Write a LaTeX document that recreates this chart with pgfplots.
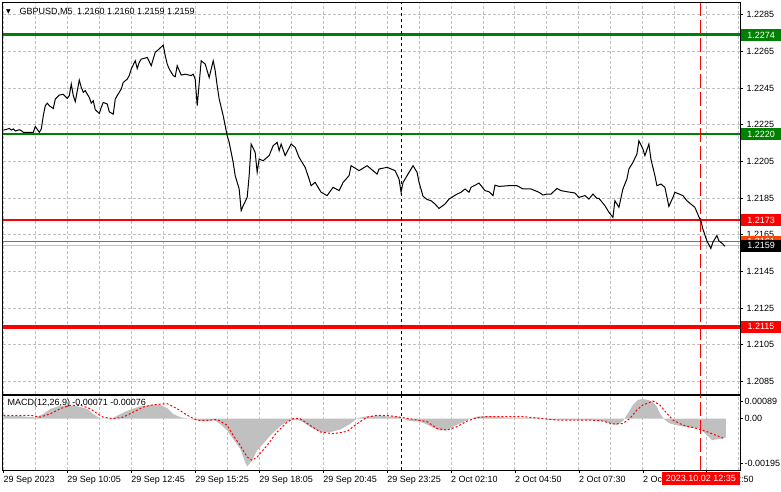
\documentclass[border=0pt]{standalone}
\usepackage{fontspec}
\setmainfont{Liberation Sans}
\newfontfamily\dejavu{DejaVu Sans}
\usepackage{pgfplots}
\pgfplotsset{compat=1.18}
\usepackage{pgfplotstable}
\definecolor{mtgreen}{RGB}{0,128,0}
\definecolor{mtred}{RGB}{255,0,0}
\definecolor{mtorange}{RGB}{255,69,0}
\definecolor{mtgrid}{RGB}{192,192,192}
\definecolor{mthist}{RGB}{192,192,192}

\pgfplotstableread{
bar price
0 1.22221
1 1.22223
3 1.22230
4 1.22221
5 1.22227
6 1.22216
8 1.22223
9 1.22218
10 1.22209
15 1.22209
16 1.22241
18 1.22209
19 1.22227
20 1.22300
21 1.22354
22 1.22368
23 1.22354
25 1.22339
26 1.22390
28 1.22412
30 1.22416
32 1.22394
33 1.22409
34 1.22472
35 1.22409
36 1.22376
38 1.22494
39 1.22454
40 1.22427
41 1.22436
43 1.22399
44 1.22368
45 1.22381
46 1.22332
48 1.22312
49 1.22345
50 1.22372
52 1.22363
53 1.22321
55 1.22308
56 1.22390
57 1.22409
59 1.22445
60 1.22481
62 1.22499
63 1.22518
64 1.22554
66 1.22599
67 1.22557
68 1.22590
69 1.22608
72 1.22617
74 1.22572
76 1.22645
77 1.22654
80 1.22684
81 1.22627
82 1.22581
83 1.22554
84 1.22536
85 1.22518
86 1.22512
87 1.22572
89 1.22521
91 1.22526
94 1.22518
95 1.22526
96 1.22499
97 1.22354
99 1.22599
101 1.22581
103 1.22508
105 1.22599
106 1.22545
107 1.22463
108 1.22390
110 1.22300
111 1.22245
112 1.22191
113 1.22154
115 1.22045
116 1.21973
118 1.21900
119 1.21782
120 1.21809
122 1.21854
123 1.21973
124 1.22145
126 1.22100
127 1.21991
128 1.22063
130 1.22054
133 1.22082
135 1.22136
137 1.22154
138 1.22109
139 1.22145
141 1.22082
144 1.22145
146 1.22127
148 1.22072
151 1.22018
153 1.21954
154 1.21918
156 1.21936
159 1.21882
162 1.21864
165 1.21909
168 1.21891
170 1.21936
173 1.21973
174 1.22027
178 1.22000
182 1.22027
187 1.21981
188 1.22009
192 1.22018
196 1.22000
198 1.21954
199 1.21882
200 1.21936
205 1.22027
207 1.21991
208 1.21936
210 1.21860
212 1.21843
214 1.21836
216 1.21818
218 1.21794
221 1.21818
223 1.21845
227 1.21872
229 1.21882
231 1.21900
233 1.21882
234 1.21909
238 1.21932
241 1.21891
243 1.21885
245 1.21864
246 1.21921
248 1.21914
253 1.21918
257 1.21918
260 1.21900
264 1.21900
268 1.21882
270 1.21867
272 1.21872
274 1.21872
277 1.21903
279 1.21891
282 1.21885
286 1.21878
288 1.21854
291 1.21864
293 1.21845
295 1.21872
297 1.21849
298 1.21849
301 1.21809
303 1.21773
305 1.21745
306 1.21836
307 1.21818
308 1.21800
310 1.21900
312 1.21954
313 1.22009
315 1.22045
317 1.22090
318 1.22163
320 1.22118
321 1.22082
323 1.22145
324 1.22063
326 1.21973
327 1.21918
329 1.21927
331 1.21909
333 1.21805
335 1.21854
336 1.21882
340 1.21864
342 1.21836
344 1.21818
346 1.21800
348 1.21749
349 1.21727
350 1.21682
352 1.21618
354 1.21576
355 1.21609
357 1.21646
358 1.21618
360 1.21600
361 1.21587
}\pricedata

\pgfplotstableread{
bar macd
0 0
0 0.00010
8 0.00010
16 0.00005
20 0.00018
23.5 0.00037
27.5 0.00047
32 0.00052
37 0.00047
42 0.00037
45 0.00018
48.5 0.0
53.5 -0.00003
57 0.00012
62 0.00030
68.5 0.00047
73.5 0.00052
78.5 0.00052
82 0.00040
85 0.00018
88.5 0.00006
95 -0.00003
100 -0.00009
106 -0.00007
108.5 -0.00020
112 -0.00045
115 -0.00077
118.5 -0.00114
121 -0.00165
122 -0.00181
124.5 -0.00158
127 -0.00120
130 -0.00095
133.5 -0.00064
137 -0.00039
140 -0.00020
143.5 -0.00007
147 -0.00003
150 -0.00013
153.5 -0.00032
158.5 -0.00049
163.5 -0.00051
168.5 -0.00041
173.5 -0.00020
177 0.00002
182 0.00009
187 0.00012
193.5 0.00008
198 0.00008
200 0
203.5 -0.00009
208.5 -0.00011
212 -0.00022
215 -0.00034
218.5 -0.00045
222 -0.00043
225 -0.00030
228.5 -0.00018
233.5 0
237 0.00008
242 0.00010
247 0.00008
252 0.00004
268 0.00004
272 -0.00004
280 -0.00005
293.5 -0.00005
300 -0.00009
303.5 -0.00018
307 -0.00024
310 -0.00009
312.5 0.00020
315 0.00052
317.5 0.00071
320 0.00075
322.5 0.00071
325 0.00064
327 0.00045
328.5 0.00020
331 -0.00005
333.5 -0.00018
338.5 -0.00027
343.5 -0.00034
348.5 -0.00037
352 -0.00062
354.5 -0.00081
358.5 -0.00077
361.5 -0.00071
361.5 0
}\histdata

\pgfplotstableread{
bar signal
0 0.00013
13.5 0.00013
18.5 0.00006
23.5 0.00019
28.5 0.00038
33.5 0.00051
38.5 0.00051
43.5 0.00038
47 0.00019
50 0.00006
55 0
60 0.00006
65 0.00025
70 0.00044
75 0.00053
82 0.00057
87 0.00038
92 0.00013
97 -0.00006
102 -0.00006
107 -0.00003
112 -0.00025
115 -0.00063
118.5 -0.00101
122 -0.00145
124.5 -0.00158
127 -0.00145
132 -0.00101
137 -0.00050
142 -0.00013
145 0
148.5 0
153.5 -0.00025
158.5 -0.00050
165 -0.00057
172 -0.00048
177 -0.00019
182 0.00006
187 0.00013
193.5 0.00011
200 0.00004
207 -0.00005
212 -0.00011
217 -0.00037
222 -0.00043
227 -0.00030
232 -0.00009
237 0.00004
242 0.00008
260 0.00008
277 -0.00005
293.5 -0.00005
300 -0.00009
305 -0.00020
310 -0.00018
313.5 0.00001
317 0.00033
320 0.00052
325 0.00067
328.5 0.00052
332 0.00020
335 -0.00005
340 -0.00024
347 -0.00037
352 -0.00049
357 -0.00064
361 -0.00076
}\signaldata

\begin{document}
\begin{tikzpicture}[font=\fontsize{9}{10}\selectfont]
% ---------------- main price panel ----------------
\begin{axis}[
  set layers,
  at={(2.5pt,97pt)}, anchor=south west,
  scale only axis, width=738pt, height=391.5pt,
  xmin=-0.25, xmax=368.75,
  ymin=1.20781, ymax=1.22914,
  clip=false,
  axis line style={black, line width=1pt},
  xtick={0,32,...,352}, minor xtick={16,48,...,368},
  xticklabels={},
  xtick style={draw=none},
  ytick={1.2085,1.2105,1.2125,1.2145,1.2165,1.2185,1.2205,1.2225,1.2245,1.2265,1.2285},
  yticklabels={1.2085,1.2105,1.2125,1.2145,1.2165,1.2185,1.2205,1.2225,1.2245,1.2265,1.2285},
  ytick pos=right, tick align=outside, major tick length=3pt, minor tick length=0pt,
  ytick style={black, line width=0.8pt},
  tick label style={font=\fontsize{9}{10}\selectfont},
  yticklabel style={anchor=west, inner sep=0pt, xshift=3pt},
  grid=both,
  major grid style={mtgrid, dash pattern=on 3pt off 2pt, line width=1pt},
  minor grid style={mtgrid, dash pattern=on 3pt off 2pt, line width=1pt},
]
% level lines
\addplot[mtgreen, line width=3pt] coordinates {(-0.25,1.2274) (368.75,1.2274)};
\addplot[mtgreen, line width=2pt] coordinates {(-0.25,1.2220) (368.75,1.2220)};
\addplot[mtred, line width=2pt] coordinates {(-0.25,1.2173) (368.75,1.2173)};
\addplot[mtred, line width=4pt] coordinates {(-0.25,1.2115) (368.75,1.2115)};
\addplot[mtorange, line width=1pt] coordinates {(-0.25,1.21613) (368.75,1.21613)};
\addplot[mtgrid, line width=1pt] coordinates {(-0.25,1.2159) (368.75,1.2159)};
% separators
\addplot[black, dash pattern=on 3pt off 3pt, line width=1pt] coordinates {(199,1.20781) (199,1.22914)};
\addplot[mtred, dash pattern=on 14pt off 4pt, line width=1pt] coordinates {(349,1.20781) (349,1.22914)};
% price
\addplot[black, line width=1pt] table[x=bar, y=price] {\pricedata};
% right labels
\node[fill=mtgreen, text=white, anchor=west, minimum width=40pt, minimum height=12pt, inner sep=0pt, xshift=0.5pt] at (axis cs:368.75,1.2274) {1.2274};
\node[fill=mtgreen, text=white, anchor=west, minimum width=40pt, minimum height=12pt, inner sep=0pt, xshift=0.5pt] at (axis cs:368.75,1.2220) {1.2220};
\node[fill=mtred, text=white, anchor=west, minimum width=40pt, minimum height=12pt, inner sep=0pt, xshift=0.5pt] at (axis cs:368.75,1.2173) {1.2173};
\node[fill=mtred, text=white, anchor=west, minimum width=40pt, minimum height=12pt, inner sep=0pt, xshift=0.5pt] at (axis cs:368.75,1.2115) {1.2115};
\node[fill=mtorange, text=white, anchor=west, minimum width=40pt, minimum height=12pt, inner sep=0pt, xshift=0.5pt] at (axis cs:368.75,1.21613) {1.2161};
\node[fill=black, text=white, anchor=west, minimum width=40pt, minimum height=12pt, inner sep=0pt, xshift=0.5pt] at (axis cs:368.75,1.2159) {1.2159};
% title
\node[anchor=center, inner sep=0pt, font=\dejavu\fontsize{6}{7}\selectfont] at (axis description cs:0.0075,0.977) {▼};
\node[anchor=west, inner sep=0pt] at (axis description cs:0.0224,0.977) {GBPUSD,M5\enspace 1.2160 1.2160 1.2159 1.2159};
\end{axis}
% ---------------- MACD panel ----------------
\begin{axis}[
  set layers,
  at={(2.5pt,21pt)}, anchor=south west,
  scale only axis, width=738pt, height=75pt,
  xmin=-0.25, xmax=368.75,
  ymin=-0.00195, ymax=0.00089,
  clip=false,
  scaled y ticks=false,
  axis line style={black, line width=1pt},
  xtick={0,32,...,352}, minor xtick={16,48,...,368},
  xticklabels={29 Sep 2023,29 Sep 10:05,29 Sep 12:45,29 Sep 15:25,29 Sep 18:05,29 Sep 20:45,29 Sep 23:25,2 Oct 02:10,2 Oct 04:50,2 Oct 07:30,2 Oct 10:10,2 Oct 12:50},
  ytick={-0.001685,0,0.000663},
  yticklabels={-0.00195,0.00,0.00089},
  xtick pos=bottom, ytick pos=right,
  tick align=outside, major tick length=3pt, minor tick length=0pt,
  tick style={black, line width=0.8pt},
  tick label style={font=\fontsize{9}{10}\selectfont},
  xticklabel style={anchor=north west, inner sep=0pt, yshift=-3pt},
  yticklabel style={anchor=west, inner sep=0pt, xshift=1pt},
  xmajorgrids, xminorgrids,
  major grid style={mtgrid, dash pattern=on 3pt off 2pt, line width=1pt},
  minor grid style={mtgrid, dash pattern=on 3pt off 2pt, line width=1pt},
]
\addplot[fill=mthist, draw=none] table[x=bar, y=macd] {\histdata};
\addplot[mtred, line width=1pt, dash pattern=on 2pt off 2pt] table[x=bar, y=signal] {\signaldata};
\addplot[black, dash pattern=on 3pt off 3pt, line width=1pt] coordinates {(199,-0.00195) (199,0.00089)};
\addplot[mtred, dash pattern=on 14pt off 4pt, line width=1pt] coordinates {(349,-0.00195) (349,0.00089)};
\node[anchor=west, inner sep=0pt] at (axis description cs:0.0061,0.893) {MACD(12,26,9) -0.00071 -0.00076};
\node[fill=mtred, text=white, anchor=north, minimum width=78pt, minimum height=13pt, inner sep=0pt, yshift=-2pt] at (axis cs:349,-0.00195) {2023.10.02 12:35};
\end{axis}
\path[use as bounding box] (0,0) rectangle (781pt,489pt);
\end{tikzpicture}
\end{document}
